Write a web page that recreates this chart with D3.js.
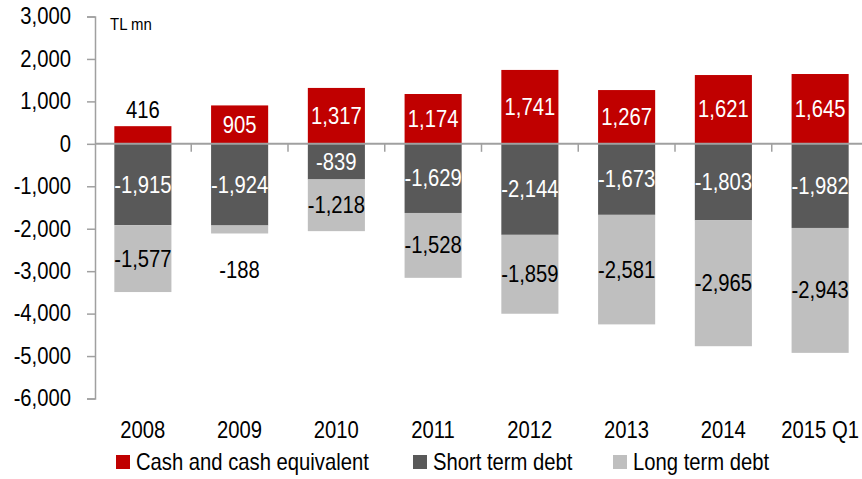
<!DOCTYPE html>
<html>
<head>
<meta charset="utf-8">
<script src="https://cdn.jsdelivr.net/npm/d3@7"></script>
<style>
  body { margin: 0; background: #fff; }
  svg text { font-family: "Liberation Sans", Arial, sans-serif; }
</style>
</head>
<body>
<div class="chart"></div>
<script>
var categories = ["2008", "2009", "2010", "2011", "2012", "2013", "2014", "2015 Q1"];
var cash = [416, 905, 1317, 1174, 1741, 1267, 1621, 1645];
var shortDebt = [-1915, -1924, -839, -1629, -2144, -1673, -1803, -1982];
var longDebt = [-1577, -188, -1218, -1528, -1859, -2581, -2965, -2943];
var seriesNames = ["Cash and cash equivalent", "Short term debt", "Long term debt"];
var yTicks = [3000, 2000, 1000, 0, -1000, -2000, -3000, -4000, -5000, -6000];

var width = 862, height = 479;
var colors = ["#c00000", "#595959", "#bfbfbf"];
var labelColors = ["#fff", "#fff", "#000"];
var squeeze = 0.88; // the original text looks horizontally compressed

var svg = d3.select(".chart").append("svg")
    .attr("width", width)
    .attr("height", height);

var x = d3.scaleBand()
    .domain(categories)
    .range([94.5, 868.5])
    .paddingInner(0.41)
    .paddingOuter(0.205);

var y = d3.scaleLinear()
    .domain([-6000, 3000])
    .range([398.5, 16.5]);

var fmt = function (v) { return d3.format(",")(v).replace("\u2212", "-"); };

// squeeze text horizontally, keeping its anchor in place
function narrow(sel) {
    sel.each(function () {
        var t = d3.select(this);
        var xx = +t.attr("x") || 0;
        t.attr("x", xx / squeeze).attr("transform", "scale(" + squeeze + ",1)");
    });
}

// build stacked segments: cash up from 0, debts down from 0
var segs = [];
categories.forEach(function (c, i) {
    segs.push({ cat: c, s: 0, y0: 0, y1: cash[i], v: cash[i] });
    segs.push({ cat: c, s: 1, y0: 0, y1: shortDebt[i], v: shortDebt[i] });
    segs.push({ cat: c, s: 2, y0: shortDebt[i], y1: shortDebt[i] + longDebt[i], v: longDebt[i] });
});

// y axis
var yAxis = svg.append("g")
    .attr("transform", "translate(95,0)")
    .call(d3.axisLeft(y).tickValues(yTicks).tickSize(8).tickPadding(16).tickFormat(fmt));
yAxis.select(".domain").attr("stroke", "#a0a0a0").attr("stroke-width", 1.5);
yAxis.selectAll(".tick line").attr("stroke", "#a0a0a0").attr("stroke-width", 1.5);
yAxis.selectAll(".tick text").attr("font-size", 23).attr("fill", "#000")
    .style("font-family", "'Liberation Sans', Arial, sans-serif")
    .call(narrow);

// bars
svg.append("g").selectAll("rect")
    .data(segs)
    .enter().append("rect")
    .attr("x", d => x(d.cat))
    .attr("width", x.bandwidth())
    .attr("y", d => y(Math.max(d.y0, d.y1)))
    .attr("height", d => Math.abs(y(d.y0) - y(d.y1)))
    .attr("fill", d => colors[d.s]);

// zero line with category ticks
var xAxis = svg.append("g");
xAxis.append("line")
    .attr("x1", 95).attr("x2", width)
    .attr("y1", y(0)).attr("y2", y(0))
    .attr("stroke", "#a0a0a0").attr("stroke-width", 2);
var step = x.step();
xAxis.selectAll("line.tk")
    .data(categories.slice(0, -1))
    .enter().append("line")
    .attr("class", "tk")
    .attr("x1", d => x(d) + x.bandwidth() + (step - x.bandwidth()) / 2)
    .attr("x2", d => x(d) + x.bandwidth() + (step - x.bandwidth()) / 2)
    .attr("y1", y(0)).attr("y2", y(0) + 8)
    .attr("stroke", "#a0a0a0").attr("stroke-width", 1.5);

// category labels
svg.append("g").selectAll("text")
    .data(categories)
    .enter().append("text")
    .attr("x", d => x(d) + x.bandwidth() / 2)
    .attr("y", 438)
    .attr("text-anchor", "middle")
    .attr("font-size", 23)
    .text(d => d)
    .call(narrow);

// value labels
svg.append("g").selectAll("text")
    .data(segs)
    .enter().append("text")
    .attr("x", d => x(d.cat) + x.bandwidth() / 2)
    .attr("y", function (d) {
        var h = Math.abs(y(d.y0) - y(d.y1));
        if (h < 22) {
            // too small: put outside
            return d.v > 0 ? y(d.y1) - 16 : y(d.y1) + 36;
        }
        return (y(d.y0) + y(d.y1)) / 2;
    })
    .attr("dy", "0.35em")
    .attr("text-anchor", "middle")
    .attr("font-size", 23)
    .attr("fill", function (d) {
        var h = Math.abs(y(d.y0) - y(d.y1));
        return h < 22 ? "#000" : labelColors[d.s];
    })
    .text(d => fmt(d.v))
    .call(narrow);

// unit
svg.append("text")
    .attr("x", 110).attr("y", 30)
    .attr("font-size", 17)
    .text("TL mn")
    .call(narrow);

// legend
var legX = [116, 413, 613];
var leg = svg.append("g").selectAll("g")
    .data(seriesNames)
    .enter().append("g")
    .attr("transform", (d, i) => "translate(" + legX[i] + ",455)");
leg.append("rect")
    .attr("width", 14).attr("height", 14)
    .attr("fill", (d, i) => colors[i]);
leg.append("text")
    .attr("x", 20).attr("y", 7)
    .attr("dy", "0.35em")
    .attr("font-size", 23)
    .text(d => d)
    .call(narrow);
</script>
</body>
</html>
